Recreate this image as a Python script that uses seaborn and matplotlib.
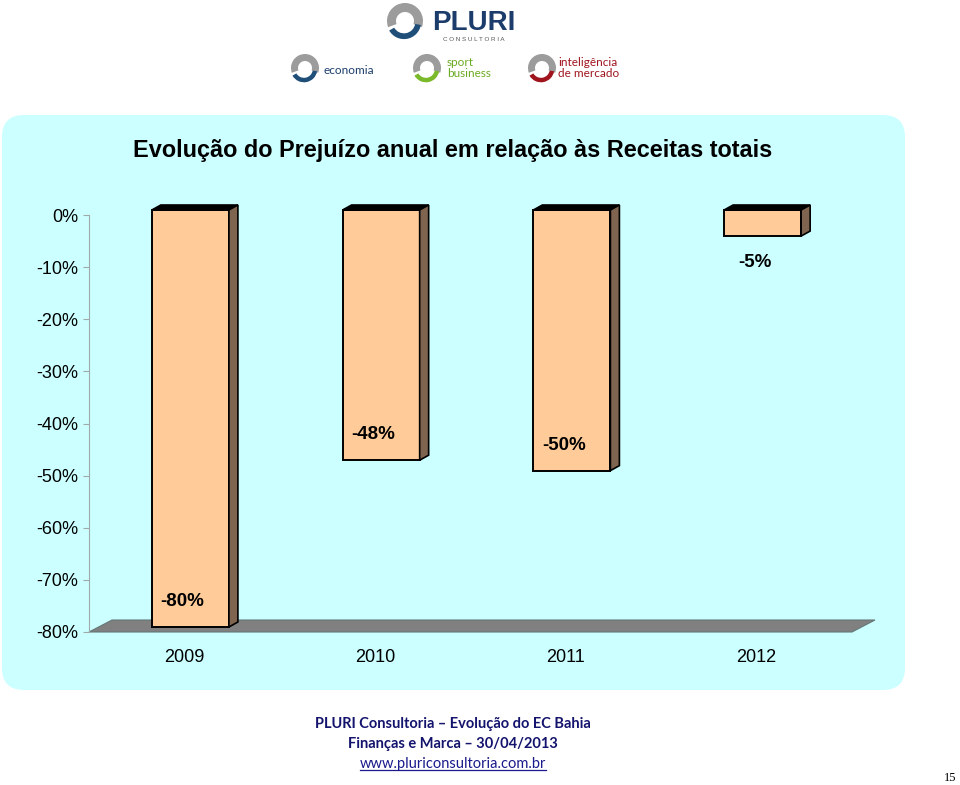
import numpy as np
import pandas as pd
import seaborn as sns
import matplotlib.pyplot as plt
from matplotlib.patches import FancyBboxPatch, Polygon, Wedge
from matplotlib.transforms import Affine2D, ScaledTranslation, IdentityTransform
from matplotlib.lines import Line2D

# data
years = ['2009', '2010', '2011', '2012']
values = [-80, -48, -50, -5]
value_labels = ['-80%', '-48%', '-50%', '-5%']
y_ticks = [0, -10, -20, -30, -40, -50, -60, -70, -80]
y_tick_labels = ['0%', '-10%', '-20%', '-30%', '-40%', '-50%', '-60%', '-70%', '-80%']

title = 'Evolução do Prejuízo anual em relação às Receitas totais'
footer = ['PLURI Consultoria – Evolução do EC Bahia', 'Finanças e Marca – 30/04/2013']
url = 'www.pluriconsultoria.com.br'

plt.rcParams['font.family'] = ['Liberation Sans', 'DejaVu Sans']

fig = plt.figure(figsize=(9.6, 7.85), dpi=100)
# helper transform: image pixel coords (origin top-left)
img = Affine2D().scale(1 / 100, -1 / 100).translate(0, 7.85) + fig.dpi_scale_trans

# light cyan panel behind the chart
panel = FancyBboxPatch((2, 115), 903, 575, boxstyle='round,pad=0,rounding_size=22',
                       transform=img, facecolor='#CCFFFF', edgecolor='none', zorder=-5)
fig.add_artist(panel)

ax = fig.add_axes([89 / 960, 153 / 785, 763 / 960, 417 / 785])
ax.patch.set_visible(False)

df = pd.DataFrame({'year': years, 'value': values})
sns.barplot(data=df, x='year', y='value', color='#FFCC99', saturation=1, width=0.404,
            edgecolor='black', linewidth=1.4, ax=ax, zorder=3)

ax.set_xlim(-0.5, 3.5)
ax.set_ylim(-80, 0)
ax.set_yticks(y_ticks)
ax.set_yticklabels(y_tick_labels)
ax.set_xlabel('')
ax.set_ylabel('')
for s in ['top', 'right', 'bottom']:
    ax.spines[s].set_visible(False)
ax.spines['left'].set_color('#A0AAAA')
ax.tick_params(axis='y', direction='out', length=4, color='#A0AAAA', labelsize=13, pad=4)
ax.tick_params(axis='x', length=0, labelsize=13, pad=12)

# pseudo 3D: front faces shifted a bit, top/side faces drawn from each bar
shift = ScaledTranslation(0.06, 0.05, fig.dpi_scale_trans)
front = ax.transData + shift
dx, dy = 9, 5  # depth in pixels

# floor
f0 = ax.transAxes.transform([(0, 0), (1, 0)])
floor = Polygon([f0[0], f0[1], f0[1] + [23, 12], f0[0] + [23, 12]], closed=True,
                transform=IdentityTransform(), facecolor='#808080', edgecolor='#667777',
                linewidth=0.8, zorder=1, clip_on=False)
ax.add_artist(floor)

for p in ax.patches[:len(values)]:
    p.set_transform(front)
    p.set_clip_on(False)
    x0, w = p.get_x(), p.get_width()
    top = max(p.get_y(), p.get_y() + p.get_height())
    bot = min(p.get_y(), p.get_y() + p.get_height())
    a, b, c = front.transform([(x0, top), (x0 + w, top), (x0 + w, bot)])
    d = np.array([dx, dy])
    top_face = Polygon([a, b, b + d, a + d], closed=True, transform=IdentityTransform(),
                       facecolor='black', edgecolor='black', linewidth=1.2, zorder=3, clip_on=False)
    side_face = Polygon([b, c, c + d, b + d], closed=True, transform=IdentityTransform(),
                        facecolor='#7F6550', edgecolor='black', linewidth=1.2, zorder=3, clip_on=False)
    ax.add_artist(top_face)
    ax.add_artist(side_face)

# data labels
for i, (v, lbl) in enumerate(zip(values, value_labels)):
    ly = v + 5.8 if v < -20 else v - 4.2
    ax.text(i - 0.01, ly, lbl, ha='center', va='center', fontsize=13.5,
            fontweight='bold', zorder=5)

fig.text(453, 150, title, transform=img, ha='center', va='center',
         fontsize=16.9, fontweight='bold')

# logos (approximate, drawn as shapes + text)
def swirl(cx, cy, r, color):
    fig.add_artist(Wedge((cx, cy), r, 160, 380, width=r * 0.5, transform=img,
                         facecolor='#9C9C9C', edgecolor='none'))
    fig.add_artist(Wedge((cx - 1, cy + 1), r * 0.95, 10, 150, width=r * 0.32, transform=img,
                         facecolor=color, edgecolor='none'))

swirl(405, 21, 18, '#1F4E79')
fig.text(432, 30, 'PLURI', transform=img, ha='left', va='baseline', fontsize=20,
         fontweight='bold', color='#1C3D6B')
fig.text(474, 37, 'C O N S U L T O R I A', transform=img, ha='center', va='top',
         fontsize=4.5, color='#555555')
swirl(305, 68, 14, '#1F4E79')
fig.text(324, 70, 'economia', transform=img, ha='left', va='center', fontsize=8.5,
         color='#1C3D6B', family=['Lato', 'DejaVu Sans'])
swirl(427, 68, 14, '#7AB929')
fig.text(447, 68, 'sport\nbusiness', transform=img, ha='left', va='center', fontsize=8.5,
         color='#6AAA20', linespacing=0.95, family=['Lato', 'DejaVu Sans'])
swirl(542, 68, 14, '#A0141E')
fig.text(558, 68, 'inteligência\nde mercado', transform=img, ha='left', va='center',
         fontsize=8.5, color='#A0141E', linespacing=0.95, family=['Lato', 'DejaVu Sans'])

# footer
navy = '#14146E'
fig.text(453, 724, footer[0], transform=img, ha='center', va='center', fontsize=10.5,
         fontweight='bold', color=navy, family=['Lato', 'DejaVu Sans'])
fig.text(453, 744, footer[1], transform=img, ha='center', va='center', fontsize=10.5,
         fontweight='bold', color=navy, family=['Lato', 'DejaVu Sans'])
t = fig.text(453, 764, url, transform=img, ha='center', va='center', fontsize=10.5,
             color='#1A1A8C', family=['Lato', 'DejaVu Sans'])
fig.canvas.draw()
bb = t.get_window_extent()
fig.add_artist(Line2D([bb.x0, bb.x1], [bb.y0 + 1, bb.y0 + 1], transform=IdentityTransform(),
                      color='#1A1A8C', linewidth=0.9))

fig.text(950, 778, '15', transform=img, ha='center', va='center', fontsize=9,
         family=['Liberation Serif', 'DejaVu Serif'])

fig.savefig('out.png', dpi=100)
